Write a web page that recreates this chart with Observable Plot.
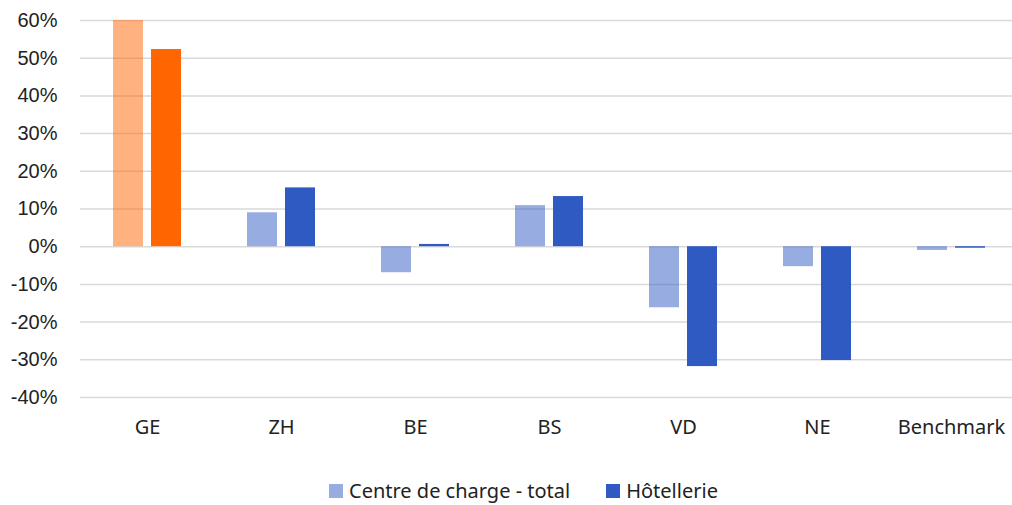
<!DOCTYPE html>
<html>
<head>
<meta charset="utf-8">
<script src="https://cdn.jsdelivr.net/npm/d3@7"></script>
<script src="https://cdn.jsdelivr.net/npm/@observablehq/plot@0.6"></script>
<style>
  body { margin: 0; background: #fff; overflow: hidden; }
  #wrap { position: relative; width: 1012px; height: 505px; overflow: hidden; }
  #legend { position: absolute; left: 329px; top: 477px; display: flex; align-items: center;
            font-family: "Noto Sans", sans-serif; font-size: 20px; color: #222; }
  .sw { width: 14px; height: 14px; display: inline-block; margin-right: 6px; }
  .item { display: flex; align-items: center; margin-right: 36px; }
</style>
</head>
<body>
<div id="wrap">
  <div id="chart"></div>
  <div id="legend"></div>
</div>
<script>
const categories = ["GE", "ZH", "BE", "BS", "VD", "NE", "Benchmark"];
const seriesNames = ["Centre de charge - total", "Hôtellerie"];
const centreTotal = [60, 9.0, -6.9, 10.9, -16.2, -5.3, -1.0];
const hotellerie = [52.3, 15.6, 0.6, 13.3, -31.8, -30.2, -0.4];
const yTicks = [-40, -30, -20, -10, 0, 10, 20, 30, 40, 50, 60];

const blue = "#2f5ac2";
const orange = "#ff6600";
const highlight = "GE";

const rows = [];
categories.forEach((c, i) => {
  rows.push({category: c, series: seriesNames[0], value: centreTotal[i]});
  rows.push({category: c, series: seriesNames[1], value: hotellerie[i]});
});

const chart = Plot.plot({
  width: 1018,
  height: 450,
  marginLeft: 80,
  marginRight: 0,
  marginTop: 20,
  marginBottom: 53,
  fx: {domain: categories, padding: 0, label: null},
  x: {domain: seriesNames, paddingInner: 0.21, paddingOuter: 0.855, axis: null},
  y: {domain: [-40, 60], label: null},
  marks: [
    Plot.ruleY(yTicks, {stroke: "#d9d9d9", strokeWidth: 1.5}),
    Plot.barY(rows, {
      fx: "category", x: "series", y: "value",
      fill: d => d.category === highlight ? orange : blue,
      fillOpacity: d => d.series === seriesNames[0] ? 0.5 : 1,
      clip: true
    }),
    Plot.axisY(yTicks, {tickSize: 0, tickPadding: 23, tickFormat: d => d + "%", label: null,
      fontSize: 20, fontFamily: "Liberation Sans, Arial, sans-serif", fill: "#222"}),
    Plot.axisFx({tickSize: 0, tickPadding: 22, label: null, anchor: "bottom",
      fontSize: 20, fontFamily: "Noto Sans, sans-serif", fill: "#222"})
  ]
});
chart.style.maxWidth = "none";
document.getElementById("chart").appendChild(chart);

const legend = document.getElementById("legend");
seriesNames.forEach((s, i) => {
  const item = document.createElement("div");
  item.className = "item";
  const sw = document.createElement("span");
  sw.className = "sw";
  sw.style.background = blue;
  sw.style.opacity = i === 0 ? 0.5 : 1;
  item.appendChild(sw);
  const t = document.createElement("span");
  t.textContent = s;
  item.appendChild(t);
  legend.appendChild(item);
});
</script>
</body>
</html>
